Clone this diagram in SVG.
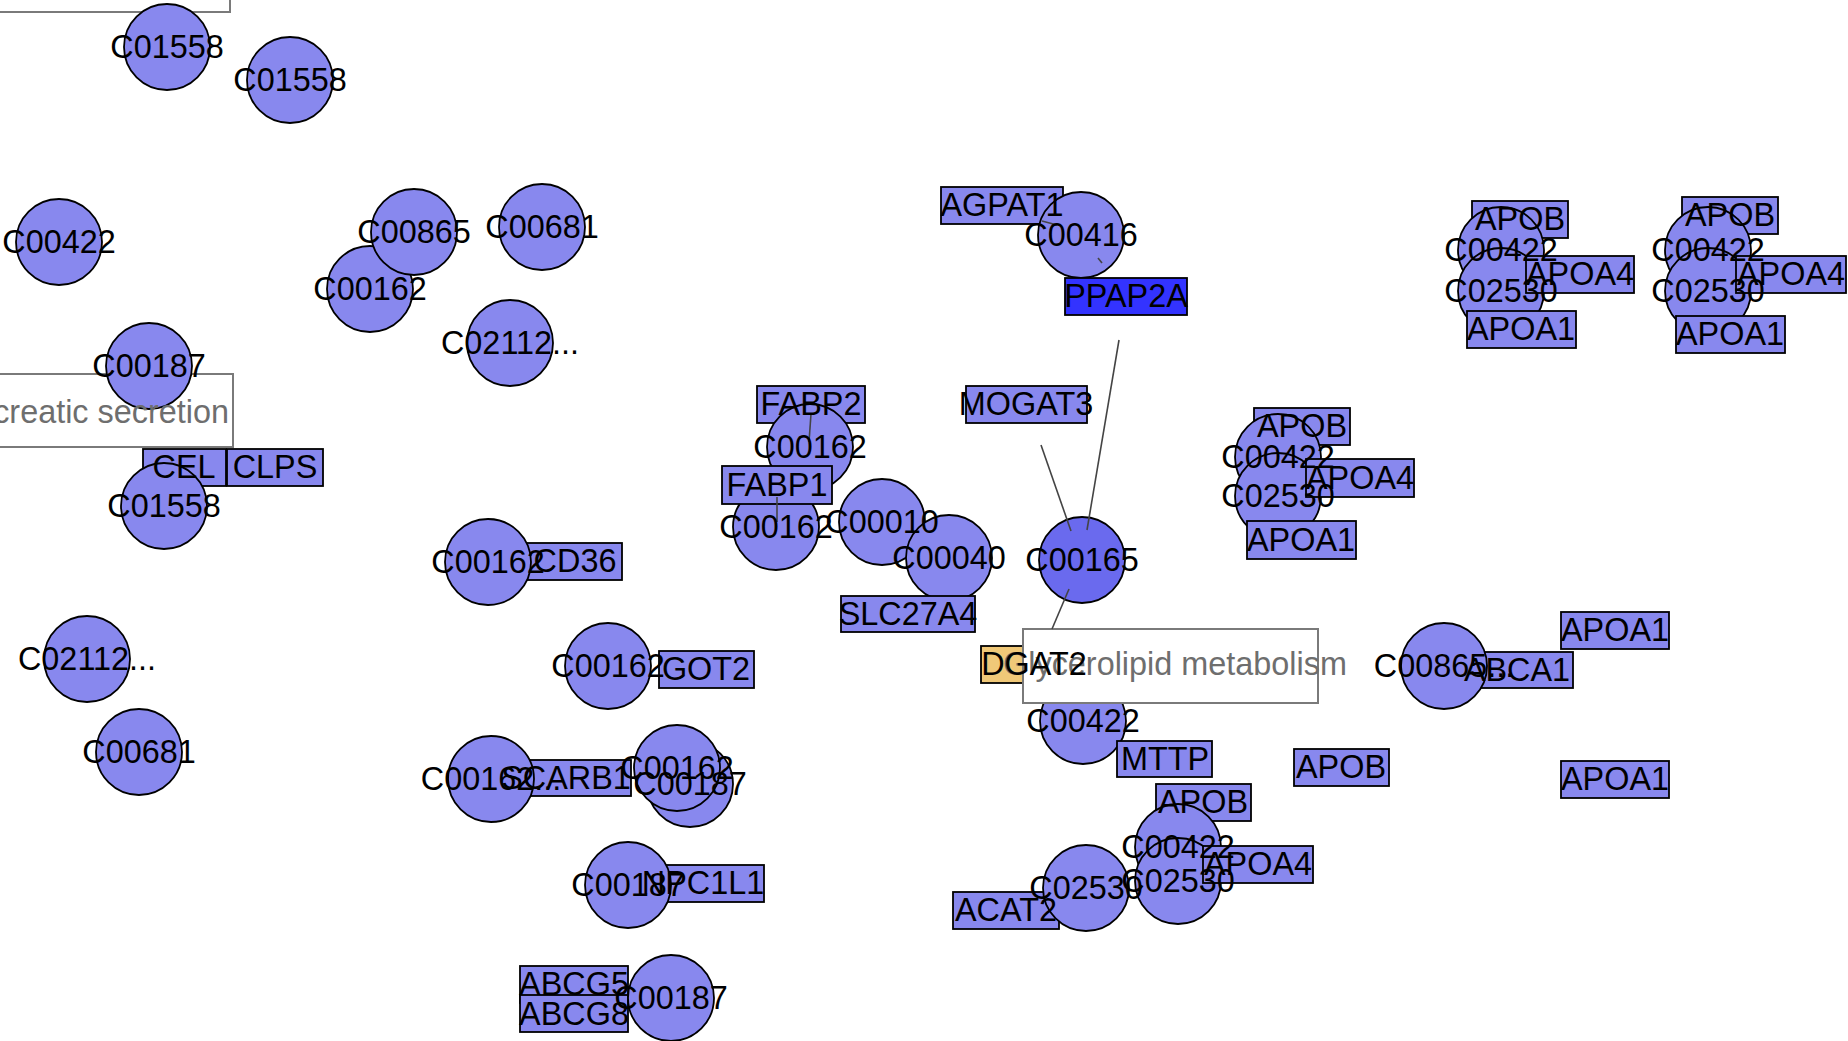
<svg xmlns="http://www.w3.org/2000/svg" width="1848" height="1041" viewBox="0 0 1848 1041">
<style>
.c{fill:#8888EE;stroke:#000;stroke-width:1.8}
.cd{fill:#6A6AEE;stroke:#000;stroke-width:1.8}
.g{fill:#8888EE;stroke:#000;stroke-width:1.8}
.gd{fill:#3333FF;stroke:#000;stroke-width:1.8}
.go{fill:#F0C878;stroke:#000;stroke-width:1.8}
.lb{fill:#FFFFFF;stroke:#7A7A7A;stroke-width:2}
text{font-family:"Liberation Sans",Arial,sans-serif;font-size:32.4px;fill:#000;text-anchor:middle}
text.lt{fill:#6E6E6E}
.e{stroke:#444;stroke-width:1.6;fill:none}
</style>
<rect width="1848" height="1041" fill="#FFFFFF"/>
<g id="nodes">
<g id="box-top-left"><rect class="lb" x="-10" y="-10" width="240" height="22"/></g>
<g id="cpd-C01558-a"><circle class="c" cx="167" cy="47" r="43"/></g>
<g id="cpd-C01558-b"><circle class="c" cx="290" cy="80" r="43"/></g>
<g id="cpd-C00422-a"><circle class="c" cx="59" cy="242" r="43"/></g>
<g id="cpd-C00162-a"><circle class="c" cx="370" cy="289" r="43"/></g>
<g id="cpd-C00865-a"><circle class="c" cx="414" cy="232" r="43"/></g>
<g id="cpd-C00681-a"><circle class="c" cx="542" cy="227" r="43"/></g>
<g id="cpd-C02112-a"><circle class="c" cx="510" cy="343" r="43"/></g>
<g id="path-pancreatic"><rect class="lb" x="-10" y="374" width="243" height="73"/></g>
<g id="cpd-C00187-a"><circle class="c" cx="149" cy="366" r="43"/></g>
<g id="gene-CEL"><rect class="g" x="143" y="449" width="83" height="37"/></g>
<g id="gene-CLPS"><rect class="g" x="227" y="449" width="96" height="37"/></g>
<g id="cpd-C01558-c"><circle class="c" cx="164" cy="506" r="43"/></g>
<g id="cpd-C02112-b"><circle class="c" cx="87" cy="659" r="43"/></g>
<g id="cpd-C00681-b"><circle class="c" cx="139" cy="752" r="43"/></g>
<g id="gene-CD36"><rect class="g" x="526" y="543" width="96" height="37"/></g>
<g id="cpd-C00162-b"><circle class="c" cx="488" cy="562" r="43"/></g>
<g id="cpd-C00162-c"><circle class="c" cx="608" cy="666" r="43"/></g>
<g id="gene-GOT2"><rect class="g" x="659" y="651" width="95" height="37"/></g>
<g id="gene-SCARB1"><rect class="g" x="501" y="760" width="130" height="36"/></g>
<g id="cpd-C00162-d"><circle class="c" cx="491" cy="779" r="43"/></g>
<g id="cpd-C00187-b"><circle class="c" cx="690" cy="784" r="43"/></g>
<g id="cpd-C00162-e"><circle class="c" cx="677" cy="768" r="43"/></g>
<g id="gene-NPC1L1"><rect class="g" x="643" y="865" width="121" height="37"/></g>
<g id="cpd-C00187-c"><circle class="c" cx="628" cy="885" r="43"/></g>
<g id="gene-ABCG5"><rect class="g" x="520" y="966" width="108" height="37"/></g>
<g id="gene-ABCG8"><rect class="g" x="520" y="995" width="108" height="37"/></g>
<g id="cpd-C00187-d"><circle class="c" cx="671" cy="998" r="43"/></g>
<g id="gene-AGPAT1"><rect class="g" x="941" y="187" width="122" height="37"/></g>
<g id="cpd-C00416"><circle class="c" cx="1081" cy="235" r="43"/></g>
<g id="gene-PPAP2A"><rect class="gd" x="1065" y="278" width="122" height="37"/></g>
<g id="gene-MOGAT3"><rect class="g" x="966" y="386" width="121" height="37"/></g>
<g id="cpd-C00162-f"><circle class="c" cx="776" cy="527" r="43"/></g>
<g id="gene-FABP2"><rect class="g" x="757" y="386" width="108" height="37"/></g>
<g id="cpd-C00162-g"><circle class="c" cx="810" cy="447" r="43"/></g>
<g id="gene-FABP1"><rect class="g" x="722" y="466" width="110" height="38"/></g>
<g id="cpd-C00010"><circle class="c" cx="882" cy="522" r="43"/></g>
<g id="cpd-C00040"><circle class="c" cx="949" cy="558" r="43"/></g>
<g id="gene-SLC27A4"><rect class="g" x="841" y="596" width="134" height="36"/></g>
<g id="cpd-C00165"><circle class="cd" cx="1082" cy="560" r="43"/></g>
<g id="gene-DGAT2"><rect class="go" x="981" y="646" width="105" height="37"/></g>
<g id="cpd-C00422-b"><circle class="c" cx="1083" cy="721" r="43"/></g>
<g id="path-glycerolipid"><rect class="lb" x="1023" y="629" width="295" height="74"/></g>
<g id="gene-MTTP"><rect class="g" x="1117" y="741" width="95" height="36"/></g>
<g id="gene-APOB-a"><rect class="g" x="1294" y="749" width="95" height="37"/></g>
<g id="gene-APOB-b"><rect class="g" x="1156" y="784" width="95" height="37"/></g>
<g id="cpd-C00422-c"><circle class="c" cx="1178" cy="847" r="43"/></g>
<g id="cpd-C02530-a"><circle class="c" cx="1178" cy="881" r="43"/></g>
<g id="gene-APOA4-a"><rect class="g" x="1203" y="846" width="110" height="37"/></g>
<g id="gene-ACAT2"><rect class="g" x="953" y="892" width="106" height="37"/></g>
<g id="cpd-C02530-b"><circle class="c" cx="1086" cy="888" r="43"/></g>
<g id="gene-APOB-c"><rect class="g" x="1254" y="408" width="96" height="37"/></g>
<g id="cpd-C00422-d"><circle class="c" cx="1278" cy="457" r="43"/></g>
<g id="cpd-C02530-c"><circle class="c" cx="1278" cy="496" r="43"/></g>
<g id="gene-APOA4-b"><rect class="g" x="1306" y="459" width="108" height="38"/></g>
<g id="gene-APOA1-a"><rect class="g" x="1247" y="521" width="109" height="38"/></g>
<g id="gene-ABCA1"><rect class="g" x="1461" y="652" width="112" height="36"/></g>
<g id="cpd-C00865-b"><circle class="c" cx="1444" cy="666" r="43"/></g>
<g id="gene-APOA1-b"><rect class="g" x="1561" y="612" width="108" height="37"/></g>
<g id="gene-APOA1-c"><rect class="g" x="1561" y="761" width="108" height="37"/></g>
<g id="gene-APOB-d"><rect class="g" x="1472" y="201" width="96" height="37"/></g>
<g id="cpd-C00422-e"><circle class="c" cx="1501" cy="250" r="43"/></g>
<g id="cpd-C02530-d"><circle class="c" cx="1501" cy="291" r="43"/></g>
<g id="gene-APOA4-c"><rect class="g" x="1526" y="256" width="108" height="37"/></g>
<g id="gene-APOA1-d"><rect class="g" x="1467" y="311" width="109" height="37"/></g>
<g id="gene-APOB-e"><rect class="g" x="1682" y="197" width="96" height="37"/></g>
<g id="cpd-C00422-f"><circle class="c" cx="1708" cy="250" r="43"/></g>
<g id="cpd-C02530-e"><circle class="c" cx="1708" cy="291" r="43"/></g>
<g id="gene-APOA4-d"><rect class="g" x="1736" y="256" width="110" height="37"/></g>
<g id="gene-APOA1-e"><rect class="g" x="1676" y="316" width="109" height="37"/></g>
</g>
<g id="connectors">
<line class="e" x1="1042" y1="221" x2="1057" y2="225"/>
<line class="e" x1="1098" y1="258" x2="1102" y2="263"/>
<line class="e" x1="1119" y1="340" x2="1087" y2="530"/>
<line class="e" x1="1041" y1="445" x2="1071" y2="531"/>
<line class="e" x1="1069" y1="589" x2="1052" y2="629"/>
<line class="e" x1="811" y1="414" x2="809" y2="442"/>
<line class="e" x1="777" y1="497" x2="777" y2="522"/>
</g>
<g id="labels">
<text x="167" y="58">C01558</text>
<text x="290" y="91">C01558</text>
<text x="59" y="253">C00422</text>
<text x="370" y="300">C00162</text>
<text x="414" y="243">C00865</text>
<text x="542" y="238">C00681</text>
<text x="510" y="354">C02112...</text>
<text class="lt" x="229" y="423" style="text-anchor:end">creatic secretion</text>
<text x="149" y="377">C00187</text>
<text x="184" y="478">CEL</text>
<text x="275" y="478">CLPS</text>
<text x="164" y="517">C01558</text>
<text x="87" y="670">C02112...</text>
<text x="139" y="763">C00681</text>
<text x="488" y="573">C00162</text>
<text x="575" y="572">CD36</text>
<text x="608" y="677">C00162</text>
<text x="706" y="680">GOT2</text>
<text x="491" y="790">C00162...</text>
<text x="566" y="789">SCARB1</text>
<text x="690" y="795">C00187</text>
<text x="677" y="779">C00162</text>
<text x="628" y="896">C00187</text>
<text x="703" y="894">NPC1L1</text>
<text x="574" y="995">ABCG5</text>
<text x="574" y="1025">ABCG8</text>
<text x="671" y="1009">C00187</text>
<text x="1002" y="216">AGPAT1</text>
<text x="1081" y="246">C00416</text>
<text x="1126" y="307">PPAP2A</text>
<text x="1026" y="415">MOGAT3</text>
<text x="811" y="415">FABP2</text>
<text x="810" y="458">C00162</text>
<text x="777" y="496">FABP1</text>
<text x="776" y="538">C00162</text>
<text x="882" y="533">C00010</text>
<text x="949" y="569">C00040</text>
<text x="908" y="625">SLC27A4</text>
<text x="1082" y="571">C00165</text>
<text class="lt" x="1175" y="675">Glycerolipid metabolism</text>
<text x="1034" y="675">DGAT2</text>
<text x="1083" y="732">C00422</text>
<text x="1165" y="770">MTTP</text>
<text x="1341" y="778">APOB</text>
<text x="1203" y="813">APOB</text>
<text x="1178" y="858">C00422</text>
<text x="1178" y="892">C02530</text>
<text x="1258" y="875">APOA4</text>
<text x="1006" y="921">ACAT2</text>
<text x="1086" y="899">C02530</text>
<text x="1302" y="437">APOB</text>
<text x="1278" y="468">C00422</text>
<text x="1278" y="507">C02530</text>
<text x="1360" y="489">APOA4</text>
<text x="1301" y="551">APOA1</text>
<text x="1444" y="677">C00865...</text>
<text x="1517" y="681">ABCA1</text>
<text x="1615" y="641">APOA1</text>
<text x="1615" y="790">APOA1</text>
<text x="1520" y="230">APOB</text>
<text x="1501" y="261">C00422</text>
<text x="1501" y="302">C02530</text>
<text x="1580" y="285">APOA4</text>
<text x="1521" y="340">APOA1</text>
<text x="1730" y="226">APOB</text>
<text x="1708" y="261">C00422</text>
<text x="1708" y="302">C02530</text>
<text x="1791" y="285">APOA4</text>
<text x="1730" y="345">APOA1</text>
</g>
</svg>
